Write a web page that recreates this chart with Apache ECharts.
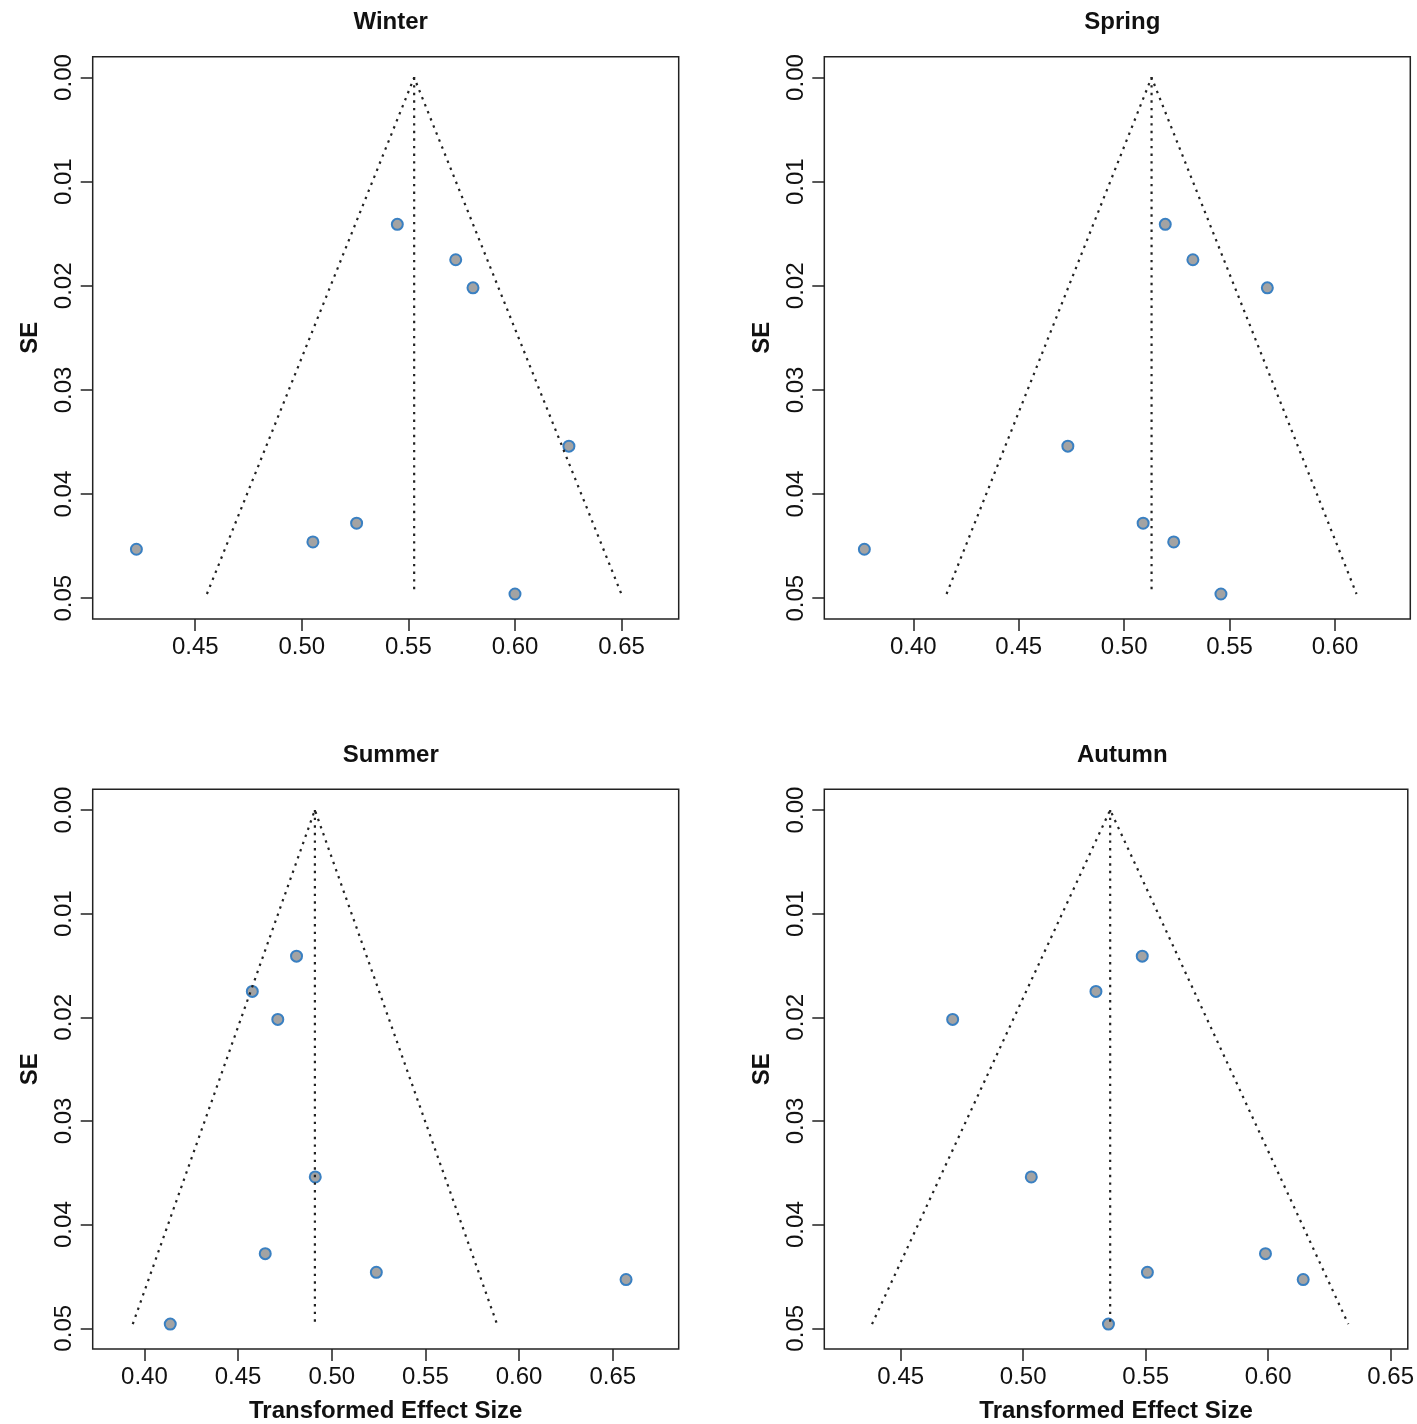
<!DOCTYPE html>
<html>
<head>
<meta charset="utf-8">
<script src="https://cdn.jsdelivr.net/npm/echarts@6/dist/echarts.min.js"></script>
<style>
  html, body { margin: 0; padding: 0; background: #fff; }
  #main { width: 1417px; height: 1424px; }
</style>
</head>
<body>
<div id="main"></div>
<script>
// standard errors of the 8 studies (same for every season)
var seValues = [0.0141, 0.0175, 0.0202, 0.0354, 0.0428, 0.0446, 0.0453, 0.0496];

// transformed effect sizes per season
var winter = [0.5448, 0.5722, 0.5803, 0.6253, 0.5257, 0.5052, 0.4224, 0.6000];
var spring = [0.5195, 0.5326, 0.5679, 0.4733, 0.5090, 0.5235, 0.3768, 0.5459];
var summer = [0.4812, 0.4576, 0.4712, 0.4912, 0.4645, 0.5238, 0.6571, 0.4138];
var autumn = [0.5486, 0.5297, 0.4712, 0.5033, 0.5989, 0.5507, 0.6143, 0.5348];

// pooled estimate (funnel centre) per season
var pooled = [0.5527, 0.5130, 0.4910, 0.5355];

var seasons = ['Winter', 'Spring', 'Summer', 'Autumn'];
var effects = [winter, spring, summer, autumn];

// x tick labels per panel
var xTicks = [
  [0.45, 0.50, 0.55, 0.60, 0.65],
  [0.40, 0.45, 0.50, 0.55, 0.60],
  [0.40, 0.45, 0.50, 0.55, 0.60, 0.65],
  [0.45, 0.50, 0.55, 0.60, 0.65]
];
var xRanges = [[0.4019, 0.6768], [0.3578, 0.6357], [0.3724, 0.6852], [0.4188, 0.6570]];
var yTicks = [0.00, 0.01, 0.02, 0.03, 0.04, 0.05];

var chart = echarts.init(document.getElementById('main'));
var FONT = '"Liberation Sans", Arial, Helvetica, sans-serif';

var panelPos = [
  { left: 92.7, top: 56.7 },
  { left: 824.3, top: 56.7 },
  { left: 92.7, top: 789.3 },
  { left: 824.3, top: 789.3 }
];
var panelW = 586, panelH = 562.3;

var grids = [], xAxes = [], yAxes = [], series = [], titles = [];
var maxSE = Math.max.apply(null, seValues);

seasons.forEach(function (name, i) {
  var p = panelPos[i];
  grids.push({
    left: p.left, top: p.top, width: panelW, height: panelH,
    show: true, borderColor: '#222', borderWidth: 1.5, backgroundColor: '#fff'
  });
  titles.push({
    text: name,
    left: p.left + panelW / 2,
    top: p.top - 51,
    textAlign: 'center',
    textStyle: { fontFamily: FONT, fontSize: 24, fontWeight: 'bold', color: '#111' }
  });
  xAxes.push({
    type: 'value', gridIndex: i,
    min: xRanges[i][0], max: xRanges[i][1],
    splitLine: { show: false },
    axisLine: { show: false, onZero: false },
    axisTick: { show: true, length: 12, lineStyle: { color: '#222', width: 1.5 }, customValues: xTicks[i] },
    axisLabel: {
      customValues: xTicks[i], margin: 16, color: '#111',
      fontFamily: FONT, fontSize: 24,
      formatter: function (v) { return v.toFixed(2); }
    },
    name: i >= 2 ? 'Transformed Effect Size' : '',
    nameLocation: 'middle', nameGap: 50,
    nameTextStyle: { fontFamily: FONT, fontSize: 24, fontWeight: 'bold', color: '#111' }
  });
  yAxes.push({
    type: 'value', gridIndex: i, inverse: true,
    min: -0.002, max: 0.052,
    splitLine: { show: false },
    axisLine: { show: false, onZero: false },
    axisTick: { show: true, length: 12, lineStyle: { color: '#222', width: 1.5 }, customValues: yTicks },
    axisLabel: {
      customValues: yTicks, rotate: 90, margin: 16, color: '#111',
      fontFamily: FONT, fontSize: 24,
      formatter: function (v) { return v.toFixed(2); }
    },
    name: 'SE', nameLocation: 'middle', nameRotate: 90, nameGap: 50,
    nameTextStyle: { fontFamily: FONT, fontSize: 24, fontWeight: 'bold', color: '#111' }
  });

  var c = pooled[i];
  var half = 1.96 * maxSE;
  var dotted = { color: '#222', width: 2.2, type: [2.4, 5.2] };
  // funnel sides
  series.push({
    type: 'line', xAxisIndex: i, yAxisIndex: i, symbol: 'none', silent: true,
    lineStyle: dotted,
    data: [[c - half, maxSE], [c, 0], [c + half, maxSE]]
  });
  // centre line
  series.push({
    type: 'line', xAxisIndex: i, yAxisIndex: i, symbol: 'none', silent: true,
    lineStyle: dotted,
    data: [[c, 0], [c, maxSE]]
  });
  // studies
  series.push({
    type: 'scatter', xAxisIndex: i, yAxisIndex: i,
    symbol: 'circle', symbolSize: 11,
    itemStyle: { color: '#a3a3a3', borderColor: '#3a80c2', borderWidth: 2, opacity: 1 },
    data: effects[i].map(function (x, k) { return [x, seValues[k]]; })
  });
});

chart.setOption({
  backgroundColor: '#fff',
  animation: false,
  title: titles,
  grid: grids,
  xAxis: xAxes,
  yAxis: yAxes,
  series: series
});
</script>
</body>
</html>
